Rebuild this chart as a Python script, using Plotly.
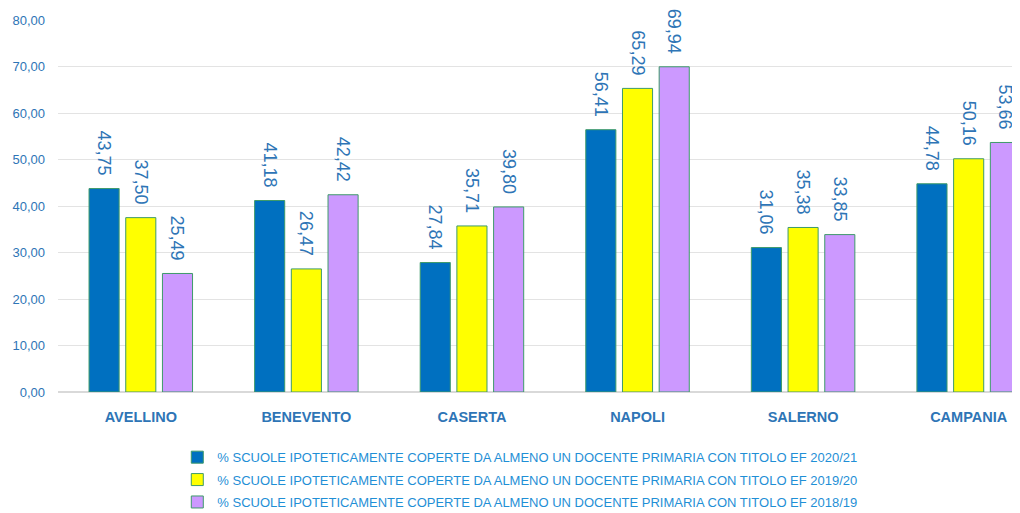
import plotly.graph_objects as go

categories = ["AVELLINO", "BENEVENTO", "CASERTA", "NAPOLI", "SALERNO", "CAMPANIA"]
series_names = [
    "% SCUOLE IPOTETICAMENTE COPERTE DA ALMENO UN DOCENTE PRIMARIA CON TITOLO EF 2020/21",
    "% SCUOLE IPOTETICAMENTE COPERTE DA ALMENO UN DOCENTE PRIMARIA CON TITOLO EF 2019/20",
    "% SCUOLE IPOTETICAMENTE COPERTE DA ALMENO UN DOCENTE PRIMARIA CON TITOLO EF 2018/19",
]
values_2020_21 = [43.75, 41.18, 27.84, 56.41, 31.06, 44.78]
values_2019_20 = [37.50, 26.47, 35.71, 65.29, 35.38, 50.16]
values_2018_19 = [25.49, 42.42, 39.80, 69.94, 33.85, 53.66]
colors = ["#0070C0", "#FFFF00", "#CC99FF"]
tick_vals = [0, 10, 20, 30, 40, 50, 60, 70, 80]

FONT = "Liberation Sans, Arial, sans-serif"
LABEL_COLOR = "#2E75B6"

fig = go.Figure()
for i, (name, vals, col) in enumerate(zip(series_names, [values_2020_21, values_2019_20, values_2018_19], colors)):
    fig.add_trace(go.Bar(
        x=categories, y=vals, name=name, legendgroup=f"g{i}",
        marker=dict(color=col, line=dict(color="#3E9A6A", width=1)),
        text=[f"{v:.2f}".replace(".", ",") + "\u00a0\u00a0" for v in vals],
        textposition="outside", textangle=90, constraintext="none",
        textfont=dict(family=FONT, size=18, color=LABEL_COLOR),
        cliponaxis=False,
    ))

fig.update_layout(
    width=1020, height=513,
    margin=dict(l=50, r=8, t=12, b=129, autoexpand=False),
    paper_bgcolor="white", plot_bgcolor="white",
    barmode="group", bargap=0.335, bargroupgap=0.18,
    separators=",.",
    font=dict(family=FONT, color=LABEL_COLOR),
    showlegend=True,
    legend=dict(
        orientation="v", x=0.124, xanchor="left", y=-0.135, yanchor="top",
        font=dict(family=FONT, size=13, color="#1F8FD6"),
        tracegroupgap=2.5, itemwidth=30, bgcolor="rgba(0,0,0,0)",
    ),
    xaxis=dict(
        type="category", range=[-0.5, 5.31], automargin=False,
        tickfont=dict(family=FONT, size=14.5, color="#2E75B6", weight="bold"),
        showgrid=False, showline=False, ticks="", ticklabelstandoff=14,
    ),
    yaxis=dict(
        range=[0, 80], tickvals=tick_vals, tickformat=".2f", automargin=False,
        tickfont=dict(family=FONT, size=13, color="#2E75B6"),
        showgrid=True, gridcolor="#E3E3E3", gridwidth=1,
        zeroline=True, zerolinecolor="#D9D9D9", showline=False, ticks="",
        ticklabelstandoff=12,
    ),
)

fig.write_html("out.html")
